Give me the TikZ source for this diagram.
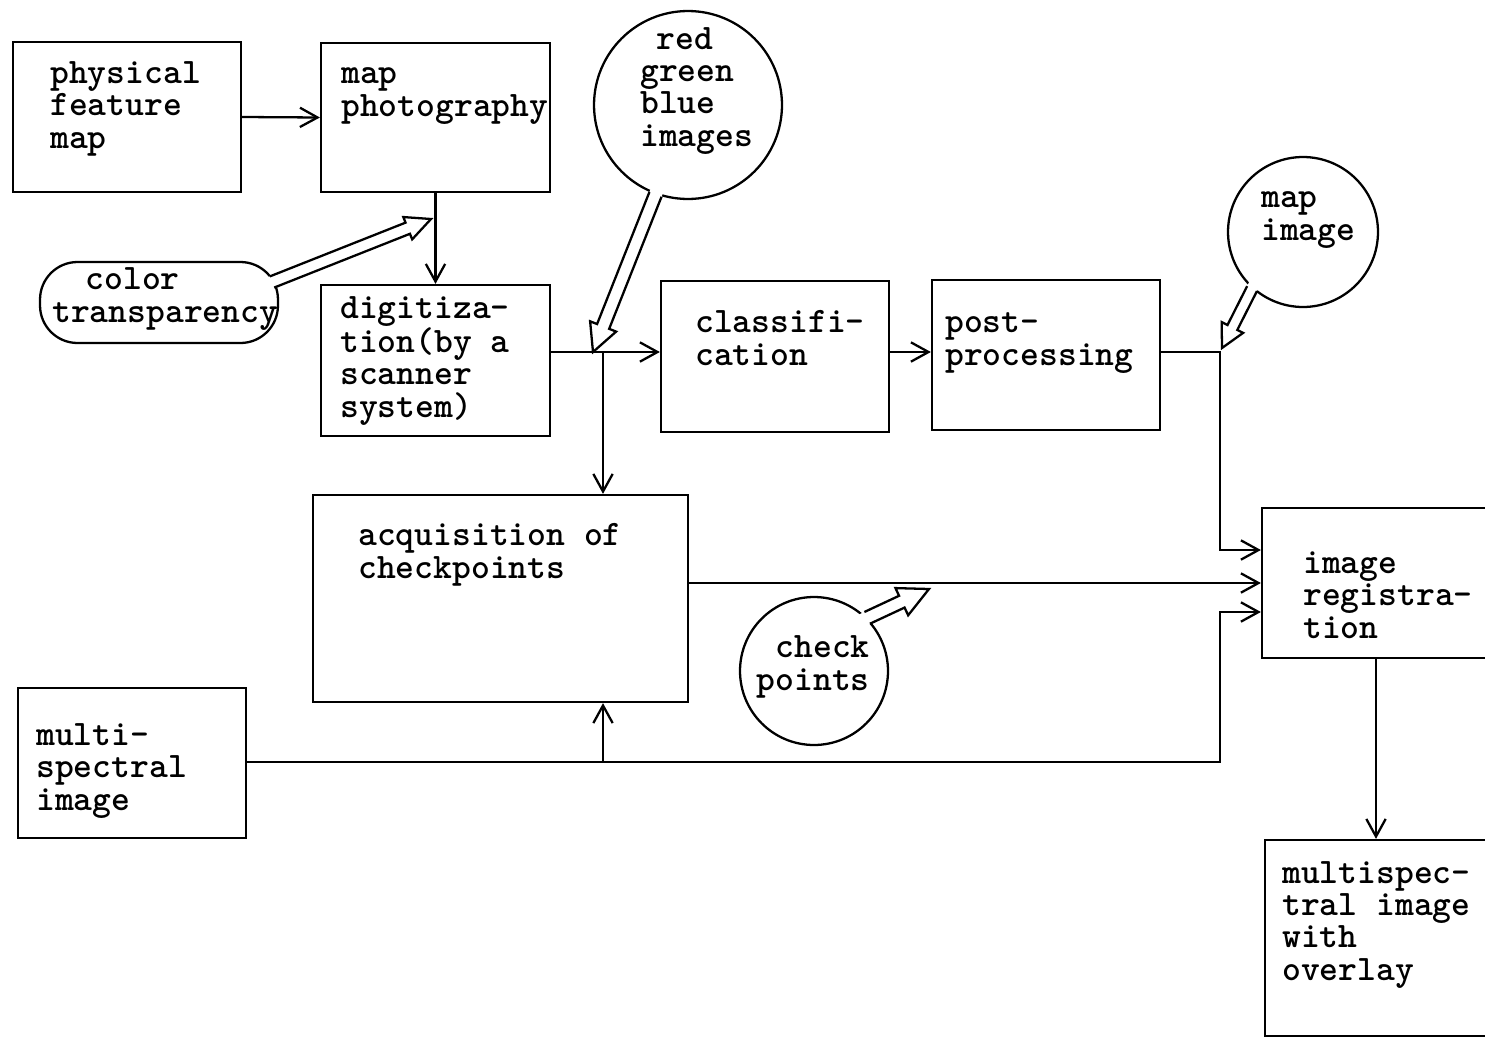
\documentclass[tikz,border=0pt]{standalone}
\usepackage{fontspec}
\usetikzlibrary{arrows.meta,calc}
\newcommand\hollowarrow[5]{%
  \path (#1) coordinate (ha-s) (#2) coordinate (ha-t);
  \path ($(ha-t)!#5!(ha-s)$) coordinate (ha-n) ($(ha-s)!-0.14cm!(ha-t)$) coordinate (ha-b);
  \fill[white] ($(ha-b)!#3!90:(ha-t)$) -- ($(ha-n)!#3!90:(ha-t)$) -- ($(ha-n)!#4!90:(ha-t)$) -- (ha-t)
     -- ($(ha-n)!#4!-90:(ha-t)$) -- ($(ha-n)!#3!-90:(ha-t)$) -- ($(ha-b)!#3!-90:(ha-t)$) -- cycle;
  \draw[line width=1.3pt,line join=miter] ($(ha-s)!#3!90:(ha-t)$) -- ($(ha-n)!#3!90:(ha-t)$) -- ($(ha-n)!#4!90:(ha-t)$) -- (ha-t)
     -- ($(ha-n)!#4!-90:(ha-t)$) -- ($(ha-n)!#3!-90:(ha-t)$) -- ($(ha-s)!#3!-90:(ha-t)$);
}
\begin{document}
\begin{tikzpicture}[x=0.02cm,y=-0.02cm,
  box/.style={draw,line width=1.3pt,inner sep=0pt,fill=white},
  bubble/.style={draw,circle,line width=1.3pt,inner sep=0pt},
  txt/.style={inner sep=0pt,align=left,anchor=base west,font=\fontsize{20.4}{18.3}\selectfont\ttfamily\bfseries},
  arr/.style={line width=1.3pt,-{Straight Barb[length=10pt,width=11pt]}},
  ln/.style={line width=1.3pt}]
\fill[white] (0,0) rectangle (1485,1038);
\useasboundingbox (0,0) rectangle (1485,1038);

% boxes
\node[box,minimum width=4.56cm,minimum height=3.0cm] (pfm) at (127,117) {};
\node[box,minimum width=4.58cm,minimum height=2.98cm] (mp) at (435.5,117.5) {};
\node[box,minimum width=4.58cm,minimum height=3.02cm] (dig) at (435.5,360.5) {};
\node[box,minimum width=4.56cm,minimum height=3.02cm] (cls) at (775,356.5) {};
\node[box,minimum width=4.56cm,minimum height=3.0cm] (post) at (1046,355) {};
\node[box,minimum width=4.56cm,minimum height=3.0cm] (reg) at (1376,583) {};
\node[box,minimum width=7.5cm,minimum height=4.14cm] (acq) at (500.5,598.5) {};
\node[box,minimum width=4.56cm,minimum height=3.0cm] (ms) at (132,763) {};
\node[box,minimum width=4.5cm,minimum height=3.92cm] (ov) at (1377.5,938) {};
\node[box,rounded corners=0.75cm,minimum width=4.76cm,minimum height=1.62cm] (ct) at (159,302.5) {};

% bubbles
\node[bubble,minimum size=3.76cm] (rgb) at (688,105) {};
\node[bubble,minimum size=3.0cm] (mapimg) at (1303,232) {};
\node[bubble,minimum size=2.96cm] (cp) at (814,671) {};

% junction coordinates
\coordinate (jd) at (603,352);
\coordinate (xr) at (1220,0);
\coordinate (yb) at (0,762);
\coordinate (rin1) at ([yshift=0.66cm]reg.west);
\coordinate (rin3) at ([yshift=-0.58cm]reg.west);
\coordinate (ctout) at (272,282);

% connectors
\draw[arr] (pfm.east) -- (mp.west);
\draw[arr] (mp.south) -- (dig.north);
\draw[arr] (dig.east|-jd) -- (cls.west|-jd);
\draw[arr] (jd) -- (acq.north-|jd);
\draw[arr] (cls.east|-jd) -- (post.west|-jd);
\draw[arr] (post.east|-jd) -- (xr|-jd) -- (xr|-rin1) -- (rin1);
\draw[arr] (acq.east|-reg.west) -- (reg.west);
\draw[arr] (ms.east|-yb) -- (xr|-yb) -- (xr|-rin3) -- (rin3);
\draw[arr] (jd|-yb) -- (acq.south-|jd);
\draw[arr] (reg.south) -- (reg.south|-ov.north);

% hollow callout arrows
\hollowarrow{rgb.250}{593,352}{0.13cm}{0.28cm}{0.55cm}
\hollowarrow{ctout}{431,219}{0.12cm}{0.24cm}{0.5cm}
\hollowarrow{mapimg.228}{1222,348}{0.11cm}{0.24cm}{0.46cm}
\hollowarrow{cp.45}{929,589}{0.13cm}{0.3cm}{0.6cm}

% texts (anchor = baseline of the last line)
\node[txt] (tpfm) at (50,148) {physical\\feature\\map};
\node[txt] (tmp) at (341,116) {map\\photography};
\node[txt] (trgb) at (640,146) {\hspace*{0.45em}red\\green\\blue\\images};
\node[txt] (tct) at (52,322) {\hspace*{0.93em}color\\transparency};
\node[txt] (tdig) at (340,417) {digitiza-\\tion(by a\\scanner\\system)};
\node[txt] (tcls) at (695,365) {classifi-\\cation};
\node[txt] (tpost) at (945,365) {post-\\processing};
\node[txt] (tmapimg) at (1261,240) {map\\image};
\node[txt] (tacq) at (358,578) {acquisition of\\checkpoints};
\node[txt,align=right,anchor=base east] (tcp) at (870,690) {check\\points};
\node[txt] (treg) at (1303,638) {image\\registra-\\tion};
\node[txt] (tms) at (36,810) {multi-\\spectral\\image};
\node[txt] (tov) at (1282,980) {multispec-\\tral image\\with\\overlay};
\end{tikzpicture}
\end{document}
